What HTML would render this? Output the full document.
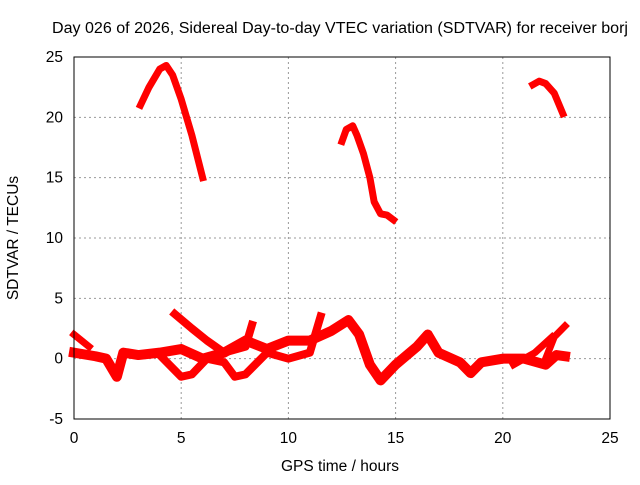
<!DOCTYPE html>
<html><head><meta charset="utf-8"><style>
body{margin:0;background:#fff;font-family:"Liberation Sans",sans-serif}
</style></head><body>
<svg id="chart" width="640" height="480" xmlns="http://www.w3.org/2000/svg" font-family="Liberation Sans, sans-serif" font-size="15.5">
<rect width="640" height="480" fill="#fff"/>
<text x="340" y="33" text-anchor="middle" font-size="15.5" textLength="576" lengthAdjust="spacingAndGlyphs">Day 026 of 2026, Sidereal Day-to-day VTEC variation (SDTVAR) for receiver borj</text>
<text x="340" y="471" text-anchor="middle">GPS time / hours</text>
<text transform="translate(18,238) rotate(-90)" text-anchor="middle">SDTVAR / TECUs</text>
<g id="grid"></g><g id="ticks"></g><g id="series"></g>
<rect x="74" y="57" width="536" height="362" fill="none" stroke="#000" stroke-width="1"/>
</svg>
<script>
const xTicks=[0,5,10,15,20,25];
const yTicks=[-5,0,5,10,15,20,25];
const track1=[[3.1,21],[3.5,22.5],[4,24],[4.3,24.3],[4.6,23.5],[5,21.5],[5.5,18.5],[6.0,15]];
const track2=[[12.5,18],[12.7,19],[13,19.3],[13.2,18.5],[13.5,17],[13.8,15],[14,13],[14.3,12],[14.6,11.9],[14.9,11.5]];
const track3=[[21.4,22.7],[21.7,23],[22,22.8],[22.4,22],[22.8,20.3]];
const track4=[[0,2],[0.7,1]];
const track5=[[0,0.5],[1,0.2],[1.5,0],[2,-1.5],[2.3,0.5],[3,0.3],[4,0.5],[5,0.8],[6,0],[7,0.5],[8,1.5],[9,0.8],[10,1.5],[11,1.5],[12,2.3],[12.8,3.2],[13.3,2],[13.8,-0.5],[14.3,-1.8],[15,-0.5],[16,1],[16.5,2],[17,0.5],[18,-0.3],[18.5,-1.2],[19,-0.3],[20,0],[21,0],[22,-0.5],[22.5,0.3],[22.9,0.2]];
const track6=[[4.7,3.7],[5.5,2.5],[6.2,1.5],[7,0.5],[8,1],[8.3,2.8]];
const track7=[[4,0.3],[5,-1.5],[5.5,-1.3],[6.2,0],[7,-0.3],[7.5,-1.5],[8,-1.3],[9,0.5],[10,0],[11,0.5],[11.5,3.5]];
const track8=[[22,0],[22.4,1.8],[22.9,2.7]];
const track9=[[20.5,-0.5],[21.5,0.5],[22.3,1.8]];
const tracks=[track1,track2,track3,track4,track5,track6,track7,track8,track9];
const widths=[7,7,7,7,10,8,8,7,7];
const X0=74,X1=610,Y0=419,Y1=57,xmin=0,xmax=25,ymin=-5,ymax=25;
const sx=v=>X0+(v-xmin)/(xmax-xmin)*(X1-X0);
const sy=v=>Y0-(v-ymin)/(ymax-ymin)*(Y0-Y1);
const NS="http://www.w3.org/2000/svg";
const mk=(t,a,p)=>{const e=document.createElementNS(NS,t);for(const k in a)e.setAttribute(k,a[k]);p.appendChild(e);return e;};
const grid=document.getElementById('grid'),ticks=document.getElementById('ticks'),ser=document.getElementById('series');
xTicks.forEach(v=>{const x=sx(v);
 if(v>xmin&&v<xmax){const g=mk('line',{x1:x,x2:x,y1:Y1,y2:Y0,stroke:'#999','stroke-dasharray':'2,3'},grid);
 
 }
 const t=mk('text',{x:x,y:443,'text-anchor':'middle'},ticks);t.textContent=v;
 
 });
yTicks.forEach(v=>{const y=sy(v);
 if(v>ymin&&v<ymax){const g=mk('line',{x1:X0,x2:X1,y1:y,y2:y,stroke:'#999','stroke-dasharray':'2,3'},grid);
 
 }
 const t=mk('text',{x:63,y:y+5,'text-anchor':'end'},ticks);t.textContent=v;
 
 });
tracks.forEach((tr,i)=>{const p=mk('polyline',{points:tr.map(d=>sx(d[0])+','+sy(d[1])).join(' '),fill:'none',stroke:'#f00','stroke-width':widths[i],'stroke-linejoin':'round','stroke-linecap':'square'},ser);
 
 });
</script>
</body></html>
